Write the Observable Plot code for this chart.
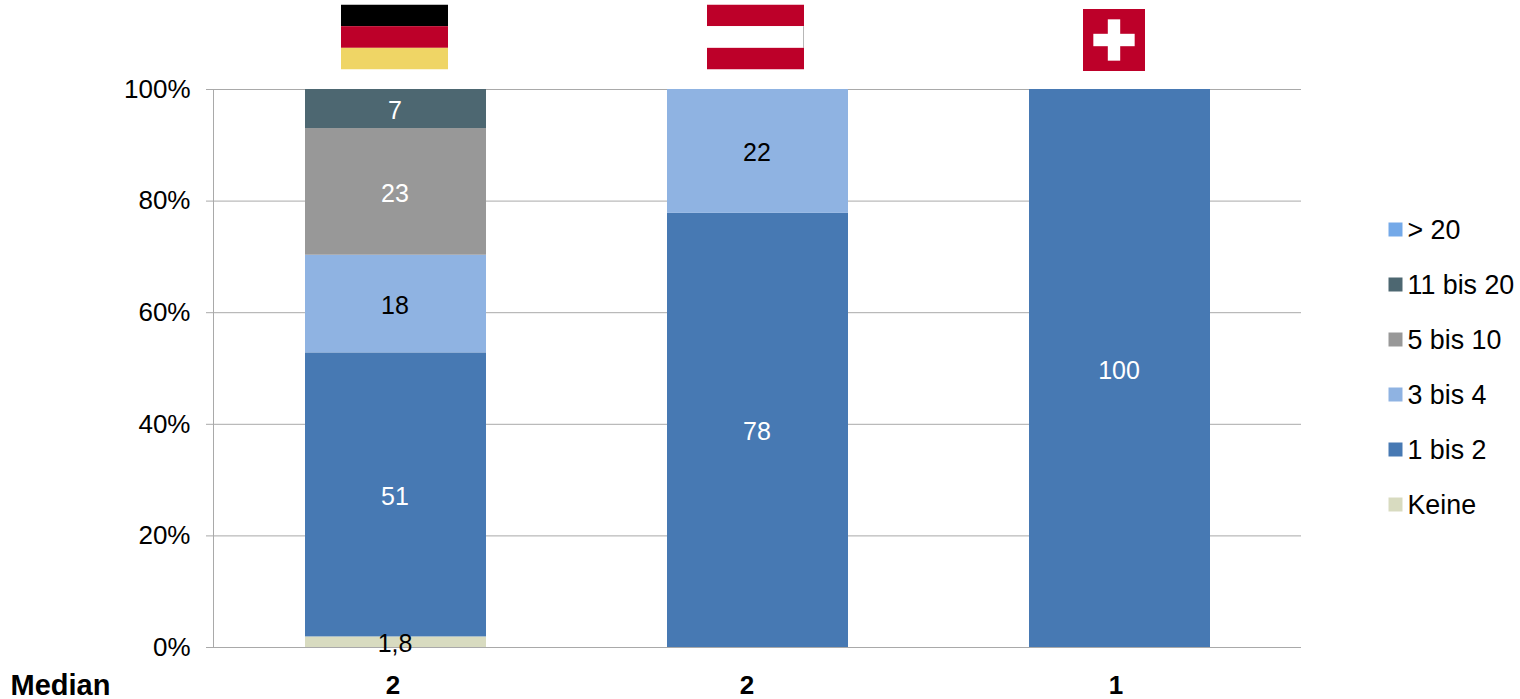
<!DOCTYPE html>
<html>
<head>
<meta charset="utf-8">
<script src="https://cdn.jsdelivr.net/npm/d3@7"></script>
<script src="https://cdn.jsdelivr.net/npm/@observablehq/plot@0.6"></script>
<style>
html,body{margin:0;padding:0;background:#fff}
svg{display:block}
</style>
</head>
<body>
<div id="chart"></div>
<script>
const countries = ["Deutschland", "Österreich", "Schweiz"];
const seriesNames = ["Keine", "1 bis 2", "3 bis 4", "5 bis 10", "11 bis 20", "> 20"];
const seriesColors = ["#d8dbc0", "#4779b3", "#8fb3e2", "#989898", "#4d6771", "#74a9e8"];
const deValues = [1.9, 50.9, 17.5, 22.7, 7.0];
const deLabels = ["1,8", "51", "18", "23", "7"];
const atValues = [77.8, 22.2];
const atLabels = ["78", "22"];
const chValues = [100];
const chLabels = ["100"];
const medians = ["2", "2", "1"];
const yTicks = [0, 20, 40, 60, 80, 100];
const legendOrder = ["> 20", "11 bis 20", "5 bis 10", "3 bis 4", "1 bis 2", "Keine"];
const whiteLabelSeries = ["1 bis 2", "5 bis 10", "11 bis 20"];

const rows = [
  ...deValues.map((v, i) => ({c: countries[0], s: seriesNames[i], v, t: deLabels[i]})),
  ...atValues.map((v, i) => ({c: countries[1], s: seriesNames[i + 1], v, t: atLabels[i]})),
  ...chValues.map((v, i) => ({c: countries[2], s: seriesNames[i + 1], v, t: chLabels[i]}))
];

const svgUri = s => "data:image/svg+xml," + encodeURIComponent(
  `<svg xmlns="http://www.w3.org/2000/svg" viewBox="0 0 30 30" preserveAspectRatio="none">${s}</svg>`);
const flagDE = svgUri('<rect width="30" height="10" fill="#000"/><rect y="10" width="30" height="10" fill="#bd0029"/><rect y="20" width="30" height="10" fill="#efd565"/>');
const flagAT = svgUri('<rect width="30" height="10" fill="#bd0029"/><rect y="10" width="30" height="10" fill="#fff"/><rect x="29.7" y="10" width="0.3" height="10" fill="#b5b5b5"/><rect y="20" width="30" height="10" fill="#bd0029"/>');
const flagCH = svgUri('<rect width="30" height="30" fill="#bd0029"/><rect x="12" y="5" width="6" height="20" fill="#fff"/><rect x="5" y="12" width="20" height="6" fill="#fff"/>');

const stackOpts = {x: "c", y: "v", z: "s", order: null, offset: "normalize"};
const font = {fontFamily: "Liberation Sans, Arial, sans-serif"};
const labelSize = 25;

const flag = (i, src, w, h, dx, dy) => Plot.image([countries[i]], {
  x: d => d, y: () => 1, src: () => src, width: w, height: h,
  dx, dy, preserveAspectRatio: "none"
});
const medianMark = (i, dx) => Plot.text([medians[i]], {
  x: () => countries[i], y: () => 0, text: d => d,
  dx, dy: 38, fontSize: 26, fontWeight: "bold", fill: "#000", ...font
});

const plot = Plot.plot({
  width: 1520, height: 699,
  marginLeft: 213, marginRight: 219, marginTop: 89, marginBottom: 52,
  style: {background: "#fff", fontFamily: font.fontFamily, overflow: "visible"},
  x: {domain: countries, paddingInner: 0.5, paddingOuter: 0.25, axis: null},
  y: {domain: [0, 100], percent: true, axis: null},
  color: {domain: seriesNames, range: seriesColors},
  marks: [
    Plot.ruleY(yTicks.map(d => d / 100), {stroke: "#a9a9a9", strokeWidth: 1}),
    Plot.frame({anchor: "left", stroke: "#a9a9a9"}),
    Plot.axisY({
      ticks: yTicks, tickSize: 7, tickPadding: 16, label: null,
      tickFormat: d => d + "%",
      stroke: "#a9a9a9", fill: "#000", fontSize: 26
    }),
    Plot.barY(rows, Plot.stackY({...stackOpts, fill: "s"})),
    Plot.text(rows, {...Plot.stackY({...stackOpts, text: "t"}),
      filter: d => whiteLabelSeries.includes(d.s), fill: "#fff", fontSize: labelSize, dx: -1, dy: 2, ...font}),
    Plot.text(rows, {...Plot.stackY({...stackOpts, text: "t"}),
      filter: d => !whiteLabelSeries.includes(d.s), fill: "#000", fontSize: labelSize, dx: -1, dy: 2, ...font}),
    flag(0, flagDE, 107, 65, -1.5, -52.5),
    flag(1, flagAT, 97, 65, -2.5, -52.5),
    flag(2, flagCH, 62, 62, -6, -49.5),
    Plot.text(["Median"], {
      frameAnchor: "bottom-left", text: d => d, textAnchor: "start", lineAnchor: "middle",
      dx: -203, dy: 38, fontSize: 29, fontWeight: "bold", fill: "#000", ...font
    }),
    medianMark(0, -3),
    medianMark(1, -11),
    medianMark(2, -4),
    ...legendOrder.map((s, i) => Plot.dot([s], {
      frameAnchor: "top-left", dx: 1395 - 213, dy: 229 - 89 + i * 55,
      symbol: "square", r: 7.9, fill: d => d, stroke: null
    })),
    ...legendOrder.map((s, i) => Plot.text([s], {
      frameAnchor: "top-left", text: d => d, textAnchor: "start", lineAnchor: "middle",
      dx: 1407 - 213, dy: 230 - 89 + i * 55, fontSize: 26.8, fill: "#000", ...font
    }))
  ]
});
document.getElementById("chart").appendChild(plot);
</script>
</body>
</html>
